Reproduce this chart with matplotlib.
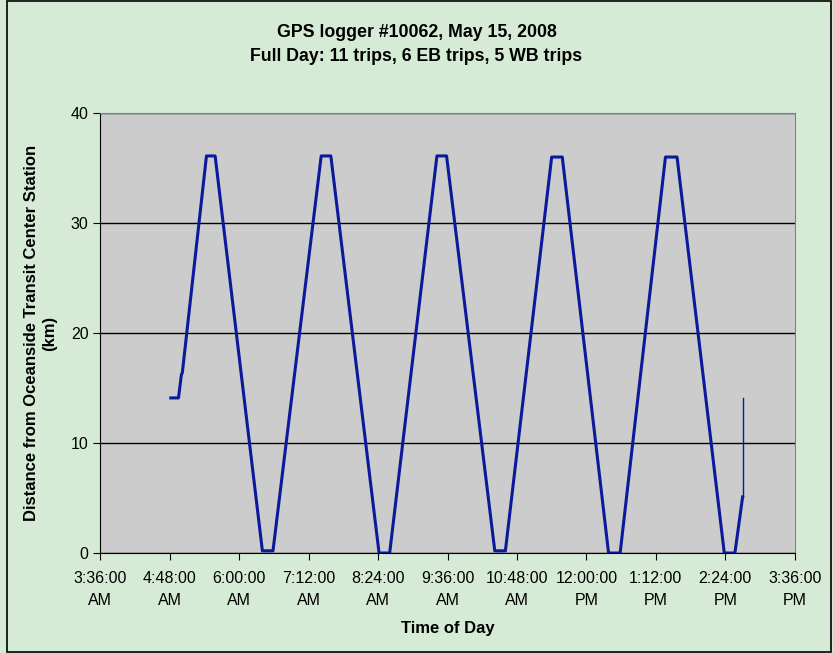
import matplotlib.pyplot as plt
from matplotlib.ticker import FuncFormatter, MultipleLocator
from matplotlib.patches import Rectangle

plt.rcParams['font.family'] = ['Liberation Sans', 'DejaVu Sans']

# trip trace: time of day (HH:MM) and distance from station (km)
times = ["04:49", "04:57", "05:00", "05:01", "05:26", "05:35",
         "06:24", "06:35", "07:25", "07:35", "08:25", "08:36",
         "09:25", "09:35", "10:25", "10:36", "11:24", "11:35",
         "12:23", "12:35", "13:22", "13:34", "14:23", "14:34",
         "14:42"]
dist_km = [14.1, 14.1, 16.2, 16.4, 36.1, 36.1,
           0.2, 0.2, 36.1, 36.1, 0.0, 0.0,
           36.1, 36.1, 0.2, 0.2, 36.0, 36.0,
           0.0, 0.0, 36.0, 36.0, 0.0, 0.0,
           5.1]
# last jump recorded by the logger
end_times = ["14:42", "14:42"]
end_dist = [5.1, 14.1]

def to_min(s):
    h, m = s.split(":")
    return int(h) * 60 + int(m)

x = [to_min(t) for t in times]
xe = [to_min(t) for t in end_times]

def fmt_time(v, pos):
    v = int(round(v))
    h, m = divmod(v, 60)
    ampm = "AM" if h < 12 else "PM"
    h12 = h % 12
    if h12 == 0:
        h12 = 12
    return f"{h12}:{m:02d}:00\n{ampm}"

fig = plt.figure(figsize=(8.33, 6.53), dpi=100)
fig.patch.set_facecolor('#D6EBD6')
fig.patches.append(Rectangle((0.008, 0.002), 0.99, 0.996, transform=fig.transFigure,
                             fill=False, edgecolor='black', linewidth=1.2))

ax = fig.add_axes([0.1205, 0.1531, 0.8335, 0.6738])
ax.set_facecolor('#CCCCCC')

ax.plot(x, dist_km, color='#0A1A9A', linewidth=2.2)
ax.plot(xe, end_dist, color='#0A1A9A', linewidth=1.0)

ax.set_xlim(216, 936)
ax.set_ylim(0, 40)
ax.xaxis.set_major_locator(MultipleLocator(72))
ax.xaxis.set_major_formatter(FuncFormatter(fmt_time))
ax.yaxis.set_major_locator(MultipleLocator(10))

ax.grid(axis='y', color='black', linewidth=1.0)
ax.set_axisbelow(True)

for s in ['top', 'right']:
    ax.spines[s].set_color('#808080')
ax.spines['left'].set_color('black')
ax.spines['bottom'].set_color('black')

ax.tick_params(axis='both', labelsize=11.5, direction='out', length=5, color='black')
ax.tick_params(axis='x', pad=8)
for lbl in ax.get_xticklabels():
    lbl.set_linespacing(1.6)

ax.set_xlabel("Time of Day", fontsize=12, fontweight='bold', labelpad=9)
ax.set_ylabel("Distance from Oceanside Transit Center Station\n(km)",
              fontsize=12, fontweight='bold', labelpad=10, linespacing=1.2)

fig.text(0.5, 0.95, "GPS logger #10062, May 15, 2008", ha='center', va='center',
         fontsize=12.8, fontweight='bold')
fig.text(0.5, 0.914, "Full Day: 11 trips, 6 EB trips, 5 WB trips", ha='center', va='center',
         fontsize=12.8, fontweight='bold')

fig.savefig("out.png", dpi=100, facecolor=fig.get_facecolor())
